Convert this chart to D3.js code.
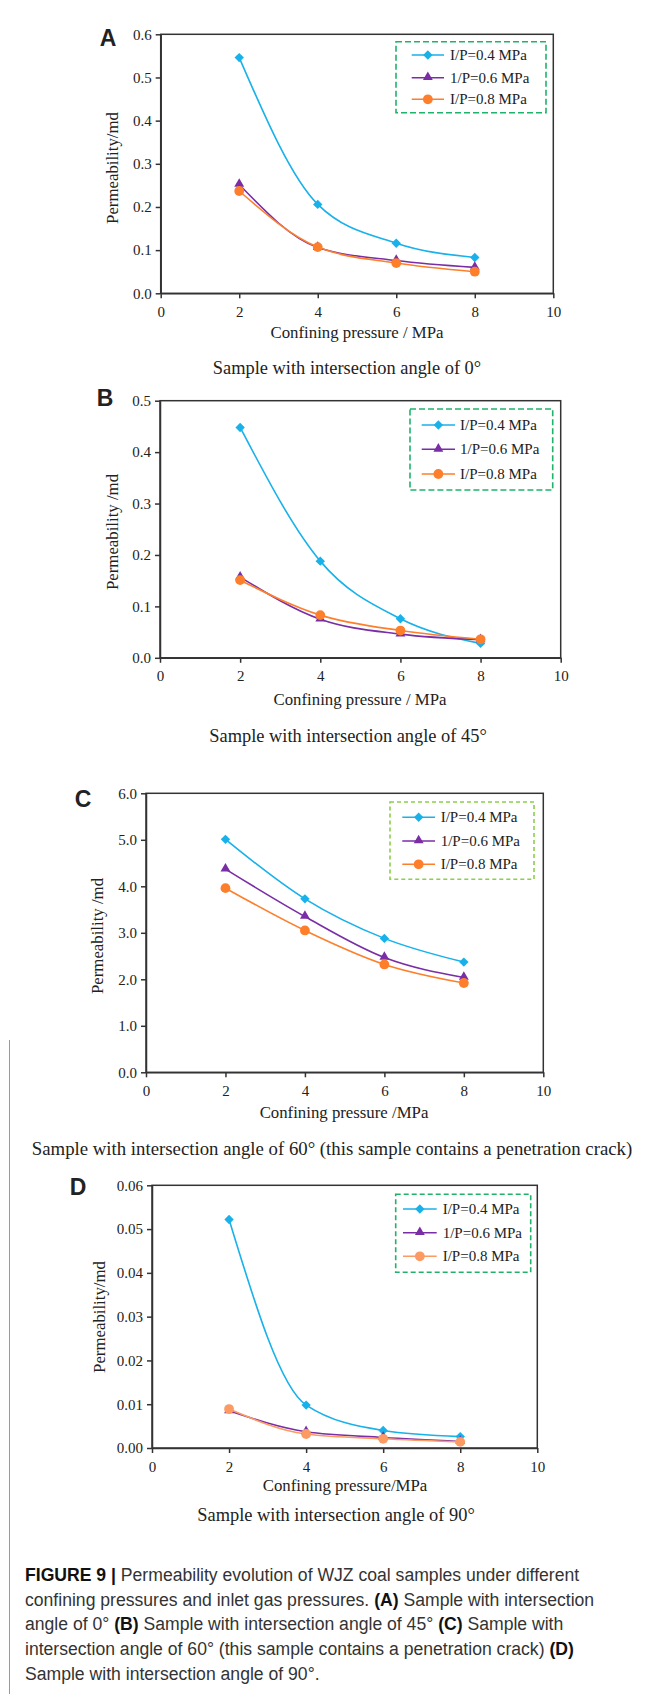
<!DOCTYPE html>
<html>
<head>
<meta charset="utf-8">
<script src="https://cdn.jsdelivr.net/npm/d3@7"></script>
<style>
  body { margin: 0; background: #fff; }
  svg { display: block; }
  .serif { font-family: "Liberation Serif", "Times New Roman", serif; fill: #222; }
  .sans { font-family: "Liberation Sans", Arial, sans-serif; fill: #222; }
</style>
</head>
<body>
<svg id="fig"></svg>
<script>
// confining pressure (MPa) and axis ticks
const pressures = [2, 4, 6, 8];
const xTicks = [0, 2, 4, 6, 8, 10];
const seriesNames = ["I/P=0.4 MPa", "1/P=0.6 MPa", "I/P=0.8 MPa"];

// permeability (md), one array per inlet pressure, per sample
const permA04 = [0.546, 0.206, 0.116, 0.083];
const permA06 = [0.252, 0.106, 0.076, 0.060];
const permA08 = [0.237, 0.107, 0.070, 0.050];

const permB04 = [0.448, 0.188, 0.076, 0.028];
const permB06 = [0.157, 0.075, 0.046, 0.035];
const permB08 = [0.151, 0.083, 0.053, 0.036];

const permC04 = [5.01, 3.73, 2.88, 2.37];
const permC06 = [4.37, 3.35, 2.47, 2.04];
const permC08 = [3.96, 3.05, 2.32, 1.92];

const permD04 = [0.0522, 0.0098, 0.0040, 0.0026];
const permD06 = [0.0085, 0.0037, 0.0024, 0.0015];
const permD08 = [0.0089, 0.0032, 0.0021, 0.0014];

const yTicksA = [0, 0.1, 0.2, 0.3, 0.4, 0.5, 0.6];
const yTicksB = [0, 0.1, 0.2, 0.3, 0.4, 0.5];
const yTicksC = [0, 1, 2, 3, 4, 5, 6];
const yTicksD = [0, 0.01, 0.02, 0.03, 0.04, 0.05, 0.06];

const colors = ["#18b1ea", "#7a2ea6", "#fd7f2c"];
const colorsD = ["#18b1ea", "#7a2ea6", "#fb9a62"];
const symbols = ["diamond", "triangle", "circle"];

const W = 651, H = 1694;

const panels = [
  { label: "A", lx: 108, ly: 38, series: [permA04, permA06, permA08], yTicks: yTicksA, fmt: ".1f", colors: colors,
    box: { l: 160.7, r: 553.3, t: 34.3, b: 293.3 },
    legend: { x0: 396, y0: 41.7, x1: 546, y1: 112.7, rows: [55, 77.7, 99.3], lineX: [411.7, 444], textX: 450, stroke: "#1fb36a", dash: "6,3" },
    yTitle: "Permeability/md", yTitleX: 112, yTitleY: 168,
    xTitle: "Confining pressure / MPa", xTitleX: 357, xTitleY: 332,
    caption: "Sample with intersection angle of 0°", capX: 347, capY: 368, capSize: 18.4 },
  { label: "B", lx: 105, ly: 398, series: [permB04, permB06, permB08], yTicks: yTicksB, fmt: ".1f", colors: colors,
    box: { l: 160, r: 560.7, t: 400.7, b: 657.8 },
    legend: { x0: 410, y0: 409, x1: 552.7, y1: 490, rows: [425, 449.3, 474], lineX: [421.7, 455], textX: 460, stroke: "#1fb36a", dash: "6,3" },
    yTitle: "Permeability /md", yTitleX: 112, yTitleY: 532,
    xTitle: "Confining pressure / MPa", xTitleX: 360, xTitleY: 699,
    caption: "Sample with intersection angle of 45°", capX: 348, capY: 736, capSize: 18.4 },
  { label: "C", lx: 83, ly: 799, series: [permC04, permC06, permC08], yTicks: yTicksC, fmt: ".1f", colors: colors,
    box: { l: 146, r: 543.3, t: 793.3, b: 1072.3 },
    legend: { x0: 390, y0: 802, x1: 534, y1: 879.3, rows: [817.3, 841, 864.3], lineX: [402.3, 435], textX: 440.7, stroke: "#8ccf4a", dash: "4,3" },
    yTitle: "Permeability /md", yTitleX: 97, yTitleY: 936,
    xTitle: "Confining pressure /MPa", xTitleX: 344, xTitleY: 1112,
    caption: "Sample with intersection angle of 60° (this sample contains a penetration crack)", capX: 332, capY: 1148, capSize: 18.8 },
  { label: "D", lx: 78, ly: 1187, series: [permD04, permD06, permD08], yTicks: yTicksD, fmt: ".2f", colors: colorsD,
    box: { l: 152, r: 537.3, t: 1185.3, b: 1448 },
    legend: { x0: 395.7, y0: 1194.3, x1: 530.7, y1: 1272.3, rows: [1209, 1232.7, 1256.3], lineX: [403, 436.7], textX: 442.7, stroke: "#1fb36a", dash: "5,3" },
    yTitle: "Permeability/md", yTitleX: 99, yTitleY: 1317,
    xTitle: "Confining pressure/MPa", xTitleX: 345, xTitleY: 1485,
    caption: "Sample with intersection angle of 90°", capX: 336, capY: 1515, capSize: 18.4 }
];

const svg = d3.select("#fig").attr("width", W).attr("height", H);
svg.append("rect").attr("width", W).attr("height", H).attr("fill", "#fff");

// thin page rule on the left
svg.append("line")
  .attr("x1", 9.5).attr("x2", 9.5).attr("y1", 1040).attr("y2", H)
  .attr("stroke", "#9a9a9a").attr("stroke-width", 1);

function drawMarker(g, type, x, y, color) {
  if (type === "diamond") {
    g.append("path")
      .attr("d", d3.symbol().type(d3.symbolSquare).size(44)())
      .attr("transform", `translate(${x},${y}) rotate(45)`)
      .attr("fill", color);
  } else if (type === "triangle") {
    g.append("path")
      .attr("d", d3.symbol().type(d3.symbolTriangle).size(42)())
      .attr("transform", `translate(${x},${y - 0.5})`)
      .attr("fill", color);
  } else {
    g.append("circle").attr("cx", x).attr("cy", y).attr("r", 4.9).attr("fill", color);
  }
}

panels.forEach(p => {
  const g = svg.append("g");
  const b = p.box;
  const x = d3.scaleLinear().domain([0, 10]).range([b.l, b.r]);
  const y = d3.scaleLinear().domain([0, p.yTicks[p.yTicks.length - 1]]).range([b.b, b.t]);

  // frame
  g.append("rect")
    .attr("x", b.l).attr("y", b.t).attr("width", b.r - b.l).attr("height", b.b - b.t)
    .attr("fill", "none").attr("stroke", "#333").attr("stroke-width", 1.5);

  const xAxis = g.append("g")
    .attr("transform", `translate(0,${b.b})`)
    .call(d3.axisBottom(x).tickValues(xTicks).tickSize(5).tickSizeOuter(0).tickPadding(8));
  const yAxis = g.append("g")
    .attr("transform", `translate(${b.l},0)`)
    .call(d3.axisLeft(y).tickValues(p.yTicks).tickFormat(d3.format(p.fmt)).tickSize(5).tickSizeOuter(0).tickPadding(4));

  [xAxis, yAxis].forEach(a => {
    a.select(".domain").attr("stroke", "#333").attr("stroke-width", 1.5);
    a.selectAll(".tick line").attr("stroke", "#333").attr("stroke-width", 1.5);
    a.selectAll(".tick text")
      .attr("class", "serif")
      .attr("font-size", 15)
      .attr("fill", "#222");
  });

  // curves
  const line = d3.line()
    .x(d => x(d[0]))
    .y(d => y(d[1]))
    .curve(d3.curveMonotoneX);

  p.series.forEach((vals, i) => {
    const pts = pressures.map((px, k) => [px, vals[k]]);
    g.append("path")
      .attr("d", line(pts))
      .attr("fill", "none")
      .attr("stroke", p.colors[i])
      .attr("stroke-width", 1.6);
  });
  p.series.forEach((vals, i) => {
    pressures.forEach((px, k) => drawMarker(g, symbols[i], x(px), y(vals[k]), p.colors[i]));
  });

  // legend
  const L = p.legend;
  g.append("rect")
    .attr("x", L.x0).attr("y", L.y0).attr("width", L.x1 - L.x0).attr("height", L.y1 - L.y0)
    .attr("fill", "#fff").attr("stroke", L.stroke).attr("stroke-width", 1.6)
    .attr("stroke-dasharray", L.dash);
  seriesNames.forEach((name, i) => {
    const ry = L.rows[i];
    g.append("line")
      .attr("x1", L.lineX[0]).attr("x2", L.lineX[1]).attr("y1", ry).attr("y2", ry)
      .attr("stroke", p.colors[i]).attr("stroke-width", 1.6);
    drawMarker(g, symbols[i], (L.lineX[0] + L.lineX[1]) / 2, ry, p.colors[i]);
    g.append("text")
      .attr("class", "serif")
      .attr("x", L.textX).attr("y", ry + 5)
      .attr("font-size", 15)
      .text(name);
  });

  // titles
  g.append("text")
    .attr("class", "serif")
    .attr("text-anchor", "middle")
    .attr("transform", `translate(${p.yTitleX},${p.yTitleY}) rotate(-90)`)
    .attr("dy", "0.35em")
    .attr("font-size", 16.8)
    .text(p.yTitle);

  g.append("text")
    .attr("class", "serif")
    .attr("text-anchor", "middle")
    .attr("x", p.xTitleX).attr("y", p.xTitleY)
    .attr("dy", "0.35em")
    .attr("font-size", 16.8)
    .text(p.xTitle);

  g.append("text")
    .attr("class", "serif")
    .attr("text-anchor", "middle")
    .attr("x", p.capX).attr("y", p.capY)
    .attr("dy", "0.35em")
    .attr("font-size", p.capSize)
    .text(p.caption);

  g.append("text")
    .attr("class", "sans")
    .attr("text-anchor", "middle")
    .attr("x", p.lx).attr("y", p.ly)
    .attr("dy", "0.36em")
    .attr("font-size", 23)
    .attr("font-weight", "bold")
    .attr("fill", "#111")
    .text(p.label);
});

// figure caption with bold runs
const captionLines = [
  [["FIGURE 9 | ", true], ["Permeability evolution of WJZ coal samples under different", false]],
  [["confining pressures and inlet gas pressures. ", false], ["(A)", true], [" Sample with intersection", false]],
  [["angle of 0° ", false], ["(B)", true], [" Sample with intersection angle of 45° ", false], ["(C)", true], [" Sample with", false]],
  [["intersection angle of 60° (this sample contains a penetration crack) ", false], ["(D)", true]],
  [["Sample with intersection angle of 90°.", false]]
];
const capTop = 1575, capStep = 24.6;
captionLines.forEach((runs, i) => {
  const t = svg.append("text")
    .attr("class", "sans")
    .attr("x", 25).attr("y", capTop + i * capStep)
    .attr("dy", "0.35em")
    .attr("font-size", 17.6)
    .attr("fill", "#333");
  runs.forEach(([s, bold]) => {
    t.append("tspan")
      .attr("font-weight", bold ? "bold" : "normal")
      .attr("fill", bold ? "#111" : "#333")
      .text(s);
  });
});
</script>
</body>
</html>
